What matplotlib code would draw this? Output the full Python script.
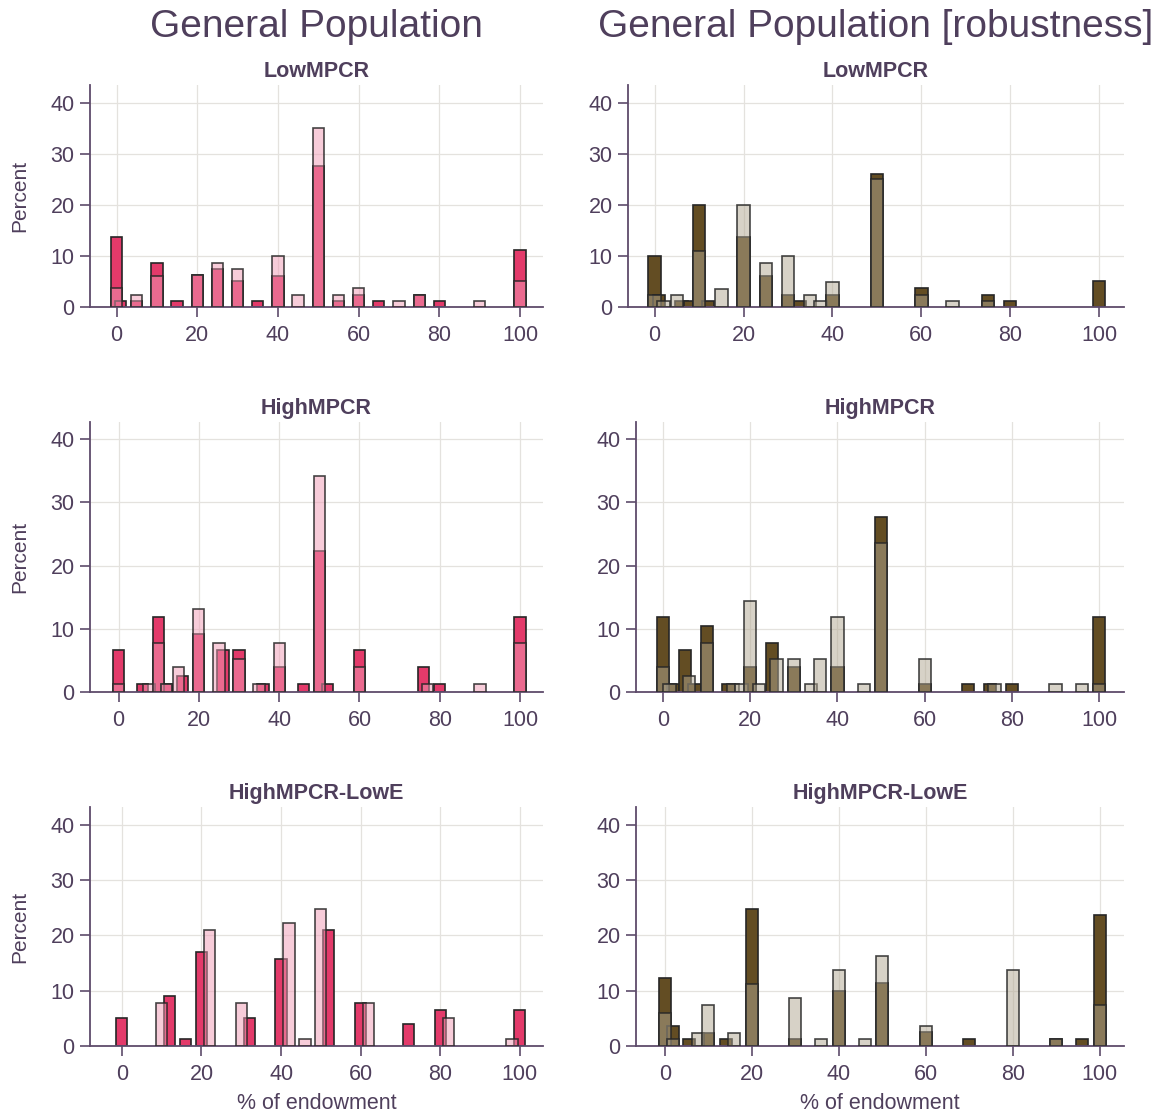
import matplotlib
matplotlib.use('Agg')
import matplotlib.pyplot as plt
from matplotlib.colors import to_rgba

plt.rcParams['font.family'] = ['Liberation Sans', 'DejaVu Sans']

TEXT = '#4F3F5C'
AXIS = '#5E4B6B'
GRID = '#E4E2DE'
EDGE = '#262626'

pink_dark = '#E33A6A'
pink_light = '#F19BB5'
brown_dark = '#634D23'
brown_light = '#B1A791'

bar_w = 2.8

# ---- General Population: LowMPCR
gp_low_dark_x = [0, 1, 5, 10, 15, 20, 25, 30, 35, 40, 50, 55, 60, 65, 75, 80, 100]
gp_low_dark_h = [13.7, 1.1, 1.1, 8.7, 1.1, 6.2, 7.5, 5.0, 1.1, 6.1, 27.6, 1.2, 2.4, 1.2, 2.4, 1.2, 11.1]
gp_low_light_x = [0, 5, 10, 20, 25, 30, 40, 45, 50, 55, 60, 70, 75, 90, 100]
gp_low_light_h = [3.7, 2.4, 6.1, 6.2, 8.7, 7.5, 9.9, 2.4, 35.0, 2.4, 3.7, 1.2, 2.4, 1.2, 5.0]

# ---- General Population: HighMPCR
gp_high_dark_x = [0, 6, 10, 12, 16, 20, 26, 30, 36, 40, 46, 50, 52, 60, 76, 80, 100]
gp_high_dark_h = [6.6, 1.2, 11.8, 1.2, 2.6, 9.2, 6.6, 6.6, 1.2, 3.9, 1.2, 22.3, 1.2, 6.6, 3.9, 1.2, 11.8]
gp_high_light_x = [0, 7.6, 10, 12, 15, 20, 25, 30, 35, 40, 50, 60, 77, 90, 100]
gp_high_light_h = [1.2, 1.2, 7.8, 1.2, 3.9, 13.1, 7.8, 5.2, 1.2, 7.8, 34.2, 3.9, 1.2, 1.2, 7.8]

# ---- General Population: HighMPCR-LowE
gp_lowe_dark_x = [0, 12, 16, 20, 32, 40, 52, 60, 72, 80, 100]
gp_lowe_dark_h = [5.1, 9.0, 1.2, 17.0, 5.1, 15.7, 20.9, 7.8, 3.9, 6.5, 6.5]
gp_lowe_light_x = [10, 22, 30, 42, 46, 50, 62, 82, 98]
gp_lowe_light_h = [7.8, 20.9, 7.8, 22.3, 1.2, 24.8, 7.8, 5.1, 1.2]

# ---- Robustness: LowMPCR
rb_low_dark_x = [0, 1, 6, 8, 10, 12, 20, 25, 30, 32.7, 40, 50, 60, 75, 80, 100]
rb_low_dark_h = [10.0, 2.4, 1.2, 1.2, 19.9, 1.2, 13.7, 6.1, 2.4, 1.2, 2.4, 26.1, 3.7, 2.4, 1.2, 5.0]
rb_low_light_x = [0, 2, 5, 10, 15, 20, 25, 30, 35, 37.3, 40, 50, 60, 67, 75]
rb_low_light_h = [2.4, 1.2, 2.4, 11.0, 3.6, 19.9, 8.7, 9.9, 2.4, 1.2, 4.9, 25.0, 2.4, 1.2, 1.2]

# ---- Robustness: HighMPCR
rb_high_dark_x = [0, 2.2, 5, 7.2, 10, 15, 20, 25, 30, 40, 50, 60, 70, 75, 80, 100]
rb_high_dark_h = [11.8, 1.2, 6.6, 1.2, 10.5, 1.2, 3.9, 7.8, 3.9, 3.9, 27.6, 1.2, 1.2, 1.2, 1.2, 11.8]
rb_high_light_x = [0, 1.5, 6, 10, 16, 18, 20, 22, 26, 30, 34, 36, 40, 46, 50, 60, 76, 90, 96, 100]
rb_high_light_h = [3.9, 1.2, 2.6, 7.8, 1.2, 1.2, 14.4, 1.2, 5.2, 5.2, 1.2, 5.2, 11.8, 1.2, 23.5, 5.2, 1.2, 1.2, 1.2, 1.2]

# ---- Robustness: HighMPCR-LowE
rb_lowe_dark_x = [0, 2, 5.6, 10, 14, 20, 30, 40, 50, 60, 70, 90, 96, 100]
rb_lowe_dark_h = [12.3, 3.6, 1.2, 2.4, 1.2, 24.8, 1.2, 10.0, 11.3, 2.5, 1.2, 1.2, 1.2, 23.6]
rb_lowe_light_x = [0, 2, 7.7, 10, 16, 20, 30, 36, 40, 46, 50, 60, 80, 90, 100]
rb_lowe_light_h = [6.0, 1.2, 2.4, 7.4, 2.4, 11.2, 8.7, 1.2, 13.7, 1.2, 16.2, 3.6, 13.7, 1.2, 7.4]

titles = ['LowMPCR', 'HighMPCR', 'HighMPCR-LowE']
col_titles = ['General Population', 'General Population [robustness]']

W, H = 1167, 1118
fig = plt.figure(figsize=(W / 100, H / 100), dpi=100)

# pixel boxes (left, right, top, bottom) and x ranges per panel
rows_px = [(85, 307), (422, 692), (807, 1046)]
cols_px = [[(90, 543), (90, 543), (90, 543)],
           [(628, 1124), (636, 1124), (636, 1124)]]
xlims = [[(-6.6, 105.7), (-7.1, 105.7), (-8.0, 105.8)],
         [(-6.0, 105.6), (-6.2, 105.7), (-6.6, 105.6)]]
ylims = [43.5, 42.7, 43.2]

panels = [
    [(gp_low_dark_x, gp_low_dark_h, gp_low_light_x, gp_low_light_h),
     (gp_high_dark_x, gp_high_dark_h, gp_high_light_x, gp_high_light_h),
     (gp_lowe_dark_x, gp_lowe_dark_h, gp_lowe_light_x, gp_lowe_light_h)],
    [(rb_low_dark_x, rb_low_dark_h, rb_low_light_x, rb_low_light_h),
     (rb_high_dark_x, rb_high_dark_h, rb_high_light_x, rb_high_light_h),
     (rb_lowe_dark_x, rb_lowe_dark_h, rb_lowe_light_x, rb_lowe_light_h)],
]
colours = [(pink_dark, pink_light), (brown_dark, brown_light)]

for c in range(2):
    dark_c, light_c = colours[c]
    for r in range(3):
        x0, x1 = cols_px[c][r]
        top, bot = rows_px[r]
        ax = fig.add_axes([x0 / W, 1 - bot / H, (x1 - x0) / W, (bot - top) / H])
        dx, dh, lx, lh = panels[c][r]

        ax.bar(dx, dh, width=bar_w, color=dark_c, edgecolor=EDGE, linewidth=1.2, zorder=2)
        ax.bar(lx, lh, width=bar_w, color=to_rgba(light_c, 0.5),
               edgecolor=to_rgba(EDGE, 0.85), linewidth=1.2, zorder=3)

        ax.set_xlim(*xlims[c][r])
        ax.set_ylim(0, ylims[r])
        ax.set_xticks([0, 20, 40, 60, 80, 100])
        ax.set_yticks([0, 10, 20, 30, 40])
        ax.grid(True, color=GRID, linewidth=0.9)
        ax.set_axisbelow(True)

        for s in ['top', 'right']:
            ax.spines[s].set_visible(False)
        for s in ['left', 'bottom']:
            ax.spines[s].set_color(AXIS)
            ax.spines[s].set_linewidth(1.3)
        ax.tick_params(axis='both', colors=AXIS, labelcolor=TEXT, labelsize=15.5,
                       length=7, width=1.2, direction='out')
        ax.tick_params(axis='x', pad=6)
        ax.tick_params(axis='y', pad=4)

        ax.set_title(titles[r], fontsize=15.5, fontweight='bold', color=TEXT, pad=6)

        if c == 0:
            ax.set_ylabel('Percent', fontsize=15, color=TEXT)
            ax.yaxis.set_label_coords(-0.135, 0.5)
        if r == 2:
            ax.set_xlabel('% of endowment', fontsize=15.5, color=TEXT)
            ax.xaxis.set_label_coords(0.5, -0.195)

    cx = (cols_px[c][0][0] + cols_px[c][0][1]) / 2
    fig.text(cx / W, 1 - 27 / H, col_titles[c], ha='center', va='center',
             fontsize=28, color=TEXT)

fig.savefig('out.png', dpi=100, facecolor='white')
